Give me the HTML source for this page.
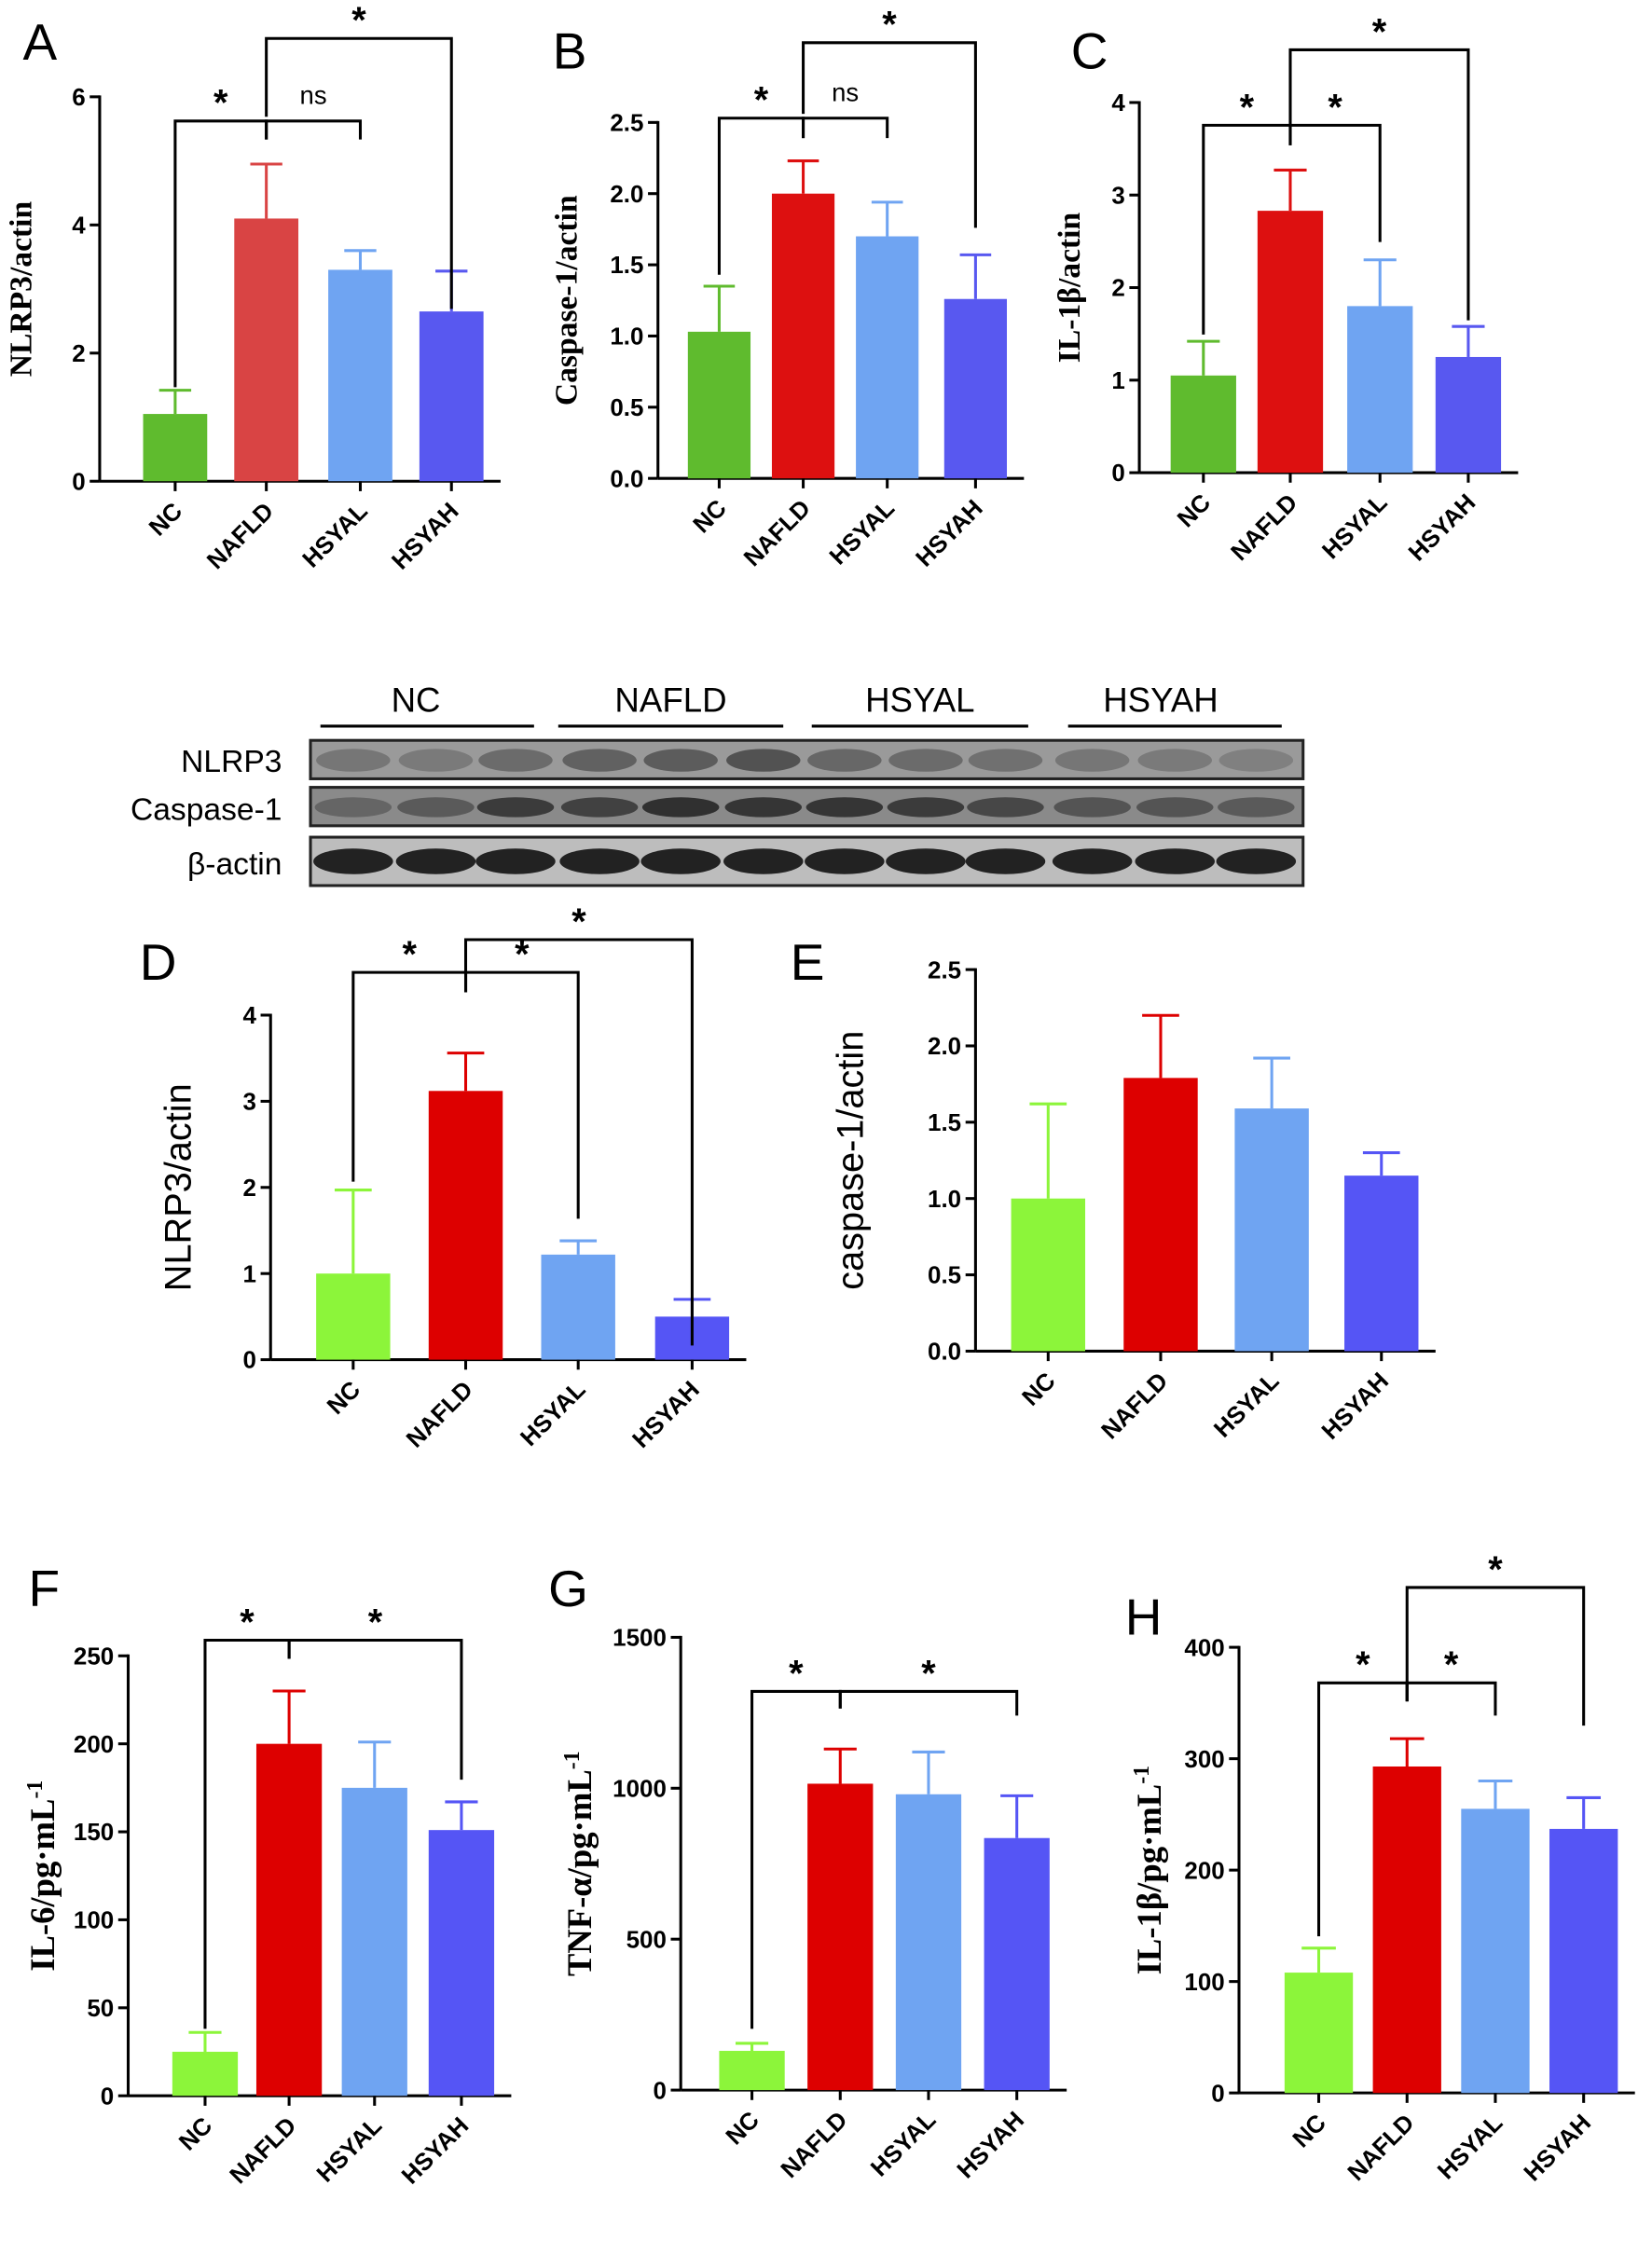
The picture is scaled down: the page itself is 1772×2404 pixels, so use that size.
<!DOCTYPE html>
<html><head><meta charset="utf-8"><style>
html,body{margin:0;padding:0;background:#fff;}
svg{display:block;}
</style></head><body>
<svg id="fig" width="1772" height="2404" viewBox="0 0 1160 1574" preserveAspectRatio="none" xmlns="http://www.w3.org/2000/svg" font-family="Liberation Sans, sans-serif">
<g id="blot">
  <text x="292" y="500" font-size="24" text-anchor="middle">NC</text>
  <text x="471" y="500" font-size="24" text-anchor="middle">NAFLD</text>
  <text x="646" y="500" font-size="24" text-anchor="middle">HSYAL</text>
  <text x="815" y="500" font-size="24" text-anchor="middle">HSYAH</text>
  <g stroke="#000" stroke-width="2">
    <line x1="225" y1="510" x2="375" y2="510"/><line x1="392" y1="510" x2="550" y2="510"/>
    <line x1="570" y1="510" x2="722" y2="510"/><line x1="750" y1="510" x2="900" y2="510"/>
  </g>
  <text x="198" y="542" font-size="22" text-anchor="end">NLRP3</text>
  <text x="198" y="576" font-size="22" text-anchor="end">Caspase-1</text>
  <text x="198" y="614" font-size="22" text-anchor="end">β-actin</text>
  <rect x="218" y="520" width="697" height="27" fill="#9a9a9a" stroke="#222" stroke-width="2"/>
  <rect x="218" y="553" width="697" height="27" fill="#8a8a8a" stroke="#222" stroke-width="2"/>
  <rect x="218" y="588" width="697" height="34" fill="#bdbdbd" stroke="#222" stroke-width="2"/>
  <g id="bands"></g>
</g>
</svg>
<script>
// Panel A
const catsA=["NC","NAFLD","HSYAL","HSYAH"];
const valsA=[1.05,4.1,3.3,2.65];
const errA=[1.42,4.95,3.6,3.28];
const ticksA=[0,2,4,6];
// Panel B
const valsB=[1.03,2.0,1.7,1.26];
const errB=[1.35,2.23,1.94,1.57];
const ticksB=["0.0","0.5","1.0","1.5","2.0","2.5"];
// Panel C
const valsC=[1.05,2.83,1.8,1.25];
const errC=[1.42,3.27,2.3,1.58];
const ticksC=[0,1,2,3,4];
// Panel D
const valsD=[1.0,3.12,1.22,0.5];
const errD=[1.97,3.56,1.38,0.7];
const ticksD=[0,1,2,3,4];
// Panel E
const valsE=[1.0,1.79,1.59,1.15];
const errE=[1.62,2.2,1.92,1.3];
const ticksE=["0.0","0.5","1.0","1.5","2.0","2.5"];
// Panel F
const valsF=[25,200,175,151];
const errF=[36,230,201,167];
const ticksF=[0,50,100,150,200,250];
// Panel G
const valsG=[130,1015,980,835];
const errG=[155,1130,1120,975];
const ticksG=[0,500,1000,1500];
// Panel H
const valsH=[108,293,255,237];
const errH=[130,318,280,265];
const ticksH=[0,100,200,300,400];

const NS="http://www.w3.org/2000/svg";
const svg=document.getElementById('fig');
function mk(tag,attrs,parent){const e=document.createElementNS(NS,tag);for(const k in attrs)e.setAttribute(k,attrs[k]);(parent||svg).appendChild(e);return e;}

const colsTop=["#5fbb2e","#dd1010","#6fa4f2","#5858f0"];
const colsA=["#5fbb2e","#d94444","#6fa4f2","#5858f0"];
const colsMid=["#8cf53a","#dd0000","#6fa4f2","#5555f5"];

function panel(p){
  const g=mk('g',{});
  
  
  const tickVals=p.ticks.map(Number);
  const ymax=tickVals[tickVals.length-1];
  const Y=v=>p.y0-(v/ymax)*(p.y0-p.ytop);
  const lt=mk('text',{x:p.lx,y:p.ly,'font-size':36},g);lt.textContent=p.id;
  
  
  const ax=mk('line',{x1:p.ax,y1:p.ytop-1,x2:p.ax,y2:p.y0,stroke:'#000','stroke-width':2},g);
  
  
  const xa=mk('line',{x1:p.ax,y1:p.y0,x2:p.cx[3]+p.bw/2+12,y2:p.y0,stroke:'#000','stroke-width':2},g);
  
  
  p.ticks.forEach(t=>{const y=Y(Number(t));
    mk('line',{x1:p.ax-7,y1:y,x2:p.ax,y2:y,stroke:'#000','stroke-width':2},g);
    const tt=mk('text',{x:p.ax-10,y:y+6,'font-size':p.tfs||17,'font-weight':'bold','text-anchor':'end'},g);tt.textContent=t;
    
    
  });
  const yt=mk('text',{transform:`translate(${p.ytx},${(p.y0+p.ytop)/2}) rotate(-90)`,'font-size':p.yfs||22,'font-weight':p.serif?'bold':'normal',style:'font-family:'+(p.serif?'"Liberation Serif",serif':'"Liberation Sans",sans-serif'),'text-anchor':'middle'},g);
  yt.textContent=p.ytitle;
  if(p.sup){const s=mk('tspan',{'baseline-shift':'super','font-size':(p.yfs||22)*0.65},yt);s.textContent=p.sup;}
  
  
  p.vals.forEach((v,i)=>{
    const c=p.cx[i],col=p.cols[i];
    const e=mk('line',{x1:c,y1:Y(v),x2:c,y2:Y(p.err[i]),stroke:col,'stroke-width':2},g);
    
    
    mk('line',{x1:c-p.bw/4,y1:Y(p.err[i]),x2:c+p.bw/4,y2:Y(p.err[i]),stroke:col,'stroke-width':2},g);
    const b=mk('rect',{x:c-p.bw/2,y:Y(v),width:p.bw,height:p.y0-Y(v),fill:col},g);
    
    
    mk('line',{x1:c,y1:p.y0,x2:c,y2:p.y0+7,stroke:'#000','stroke-width':2},g);
    const xl=mk('text',{transform:`translate(${c+6},${p.y0+22}) rotate(-45)`,'font-size':17,'font-weight':'bold','text-anchor':'end'},g);
    xl.textContent=catsA[i];
    
    
  });
  (p.br||[]).forEach(b=>{
    const x1=p.cx[b[0]],x2=p.cx[b[1]],y=b[2];
    const pl=mk('polyline',{points:`${x1},${b[4]} ${x1},${y} ${x2},${y} ${x2},${b[5]}`,fill:'none',stroke:'#000','stroke-width':2},g);
    
    
    const st=mk('text',{x:(x1+x2)/2,y:b[3]==='ns'?y-12:y-4,'font-size':b[3]==='ns'?18:26,'font-weight':b[3]==='ns'?'normal':'bold','text-anchor':'middle'},g);
    st.textContent=b[3];
    
    
  });
}
panel({id:'A',lx:16,ly:42,ax:70,y0:338,ytop:68,ticks:ticksA,vals:valsA,err:errA,cx:[123,187,253,317],bw:45,cols:colsA,ytx:22,ytitle:'NLRP3/actin',serif:true,
  br:[[0,1,85,'*',272,98],[1,2,85,'ns',98,98],[1,3,27,'*',82,217]]});
panel({id:'B',lx:388,ly:48,ax:462,y0:336,ytop:86,ticks:ticksB,vals:valsB,err:errB,cx:[505,564,623,685],bw:44,cols:colsTop,ytx:405,ytitle:'Caspase-1/actin',serif:true,
  br:[[0,1,83,'*',193,97],[1,2,83,'ns',97,97],[1,3,30,'*',80,160]]});
panel({id:'C',lx:752,ly:48,ax:800,y0:332,ytop:72,ticks:ticksC,vals:valsC,err:errC,cx:[845,906,969,1031],bw:46,cols:colsTop,ytx:758,ytitle:'IL-1β/actin',serif:true,
  br:[[0,1,88,'*',235,102],[1,2,88,'*',102,170],[1,3,35,'*',102,225]]});
panel({id:'D',lx:98,ly:688,ax:190,y0:955,ytop:713,ticks:ticksD,vals:valsD,err:errD,cx:[248,327,406,486],bw:52,cols:colsMid,ytx:134,ytitle:'NLRP3/actin',tfs:17,yfs:26,
  br:[[0,1,683,'*',830,697],[1,2,683,'*',697,856],[1,3,660,'*',697,945]]});
panel({id:'E',lx:555,ly:688,ax:685,y0:949,ytop:681,ticks:ticksE,vals:valsE,err:errE,cx:[736,815,893,970],bw:52,cols:colsMid,ytx:606,ytitle:'caspase-1/actin',tfs:17,yfs:26});
panel({id:'F',lx:20,ly:1128,ax:90,y0:1472,ytop:1163,ticks:ticksF,vals:valsF,err:errF,cx:[144,203,263,324],bw:46,cols:colsMid,ytx:38,ytitle:'IL-6/pg·mL',sup:'-1',serif:true,yfs:24,
  br:[[0,1,1152,'*',1425,1165],[1,3,1152,'*',1165,1250]]});
panel({id:'G',lx:385,ly:1128,ax:478,y0:1468,ytop:1150,ticks:ticksG,vals:valsG,err:errG,cx:[528,590,652,714],bw:46,cols:colsMid,ytx:415,ytitle:'TNF-α/pg·mL',sup:'-1',serif:true,yfs:24,
  br:[[0,1,1188,'*',1425,1200],[1,3,1188,'*',1200,1205]]});
panel({id:'H',lx:790,ly:1148,ax:870,y0:1470,ytop:1157,ticks:ticksH,vals:valsH,err:errH,cx:[926,988,1050,1112],bw:48,cols:colsMid,ytx:815,ytitle:'IL-1β/pg·mL',sup:'-1',serif:true,yfs:24,
  br:[[0,1,1182,'*',1360,1195],[1,2,1182,'*',1195,1205],[1,3,1115,'*',1195,1212]]});

// blot bands
const bandG=document.getElementById('bands');
const laneX=[248,306,362,421,478,536,593,650,706,767,825,882];
const r1=[0.35,0.3,0.45,0.55,0.6,0.7,0.5,0.45,0.4,0.35,0.3,0.25];
const r2=[0.3,0.4,0.65,0.6,0.75,0.7,0.7,0.65,0.55,0.45,0.45,0.4];
laneX.forEach((x,i)=>{
  mk('ellipse',{cx:x,cy:534,rx:26,ry:8,fill:'#333','fill-opacity':r1[i]},bandG);
  mk('ellipse',{cx:x,cy:567,rx:27,ry:7,fill:'#111','fill-opacity':r2[i]},bandG);
  mk('ellipse',{cx:x,cy:605,rx:28,ry:9,fill:'#111','fill-opacity':0.9},bandG);
});
</script>
</body></html>
